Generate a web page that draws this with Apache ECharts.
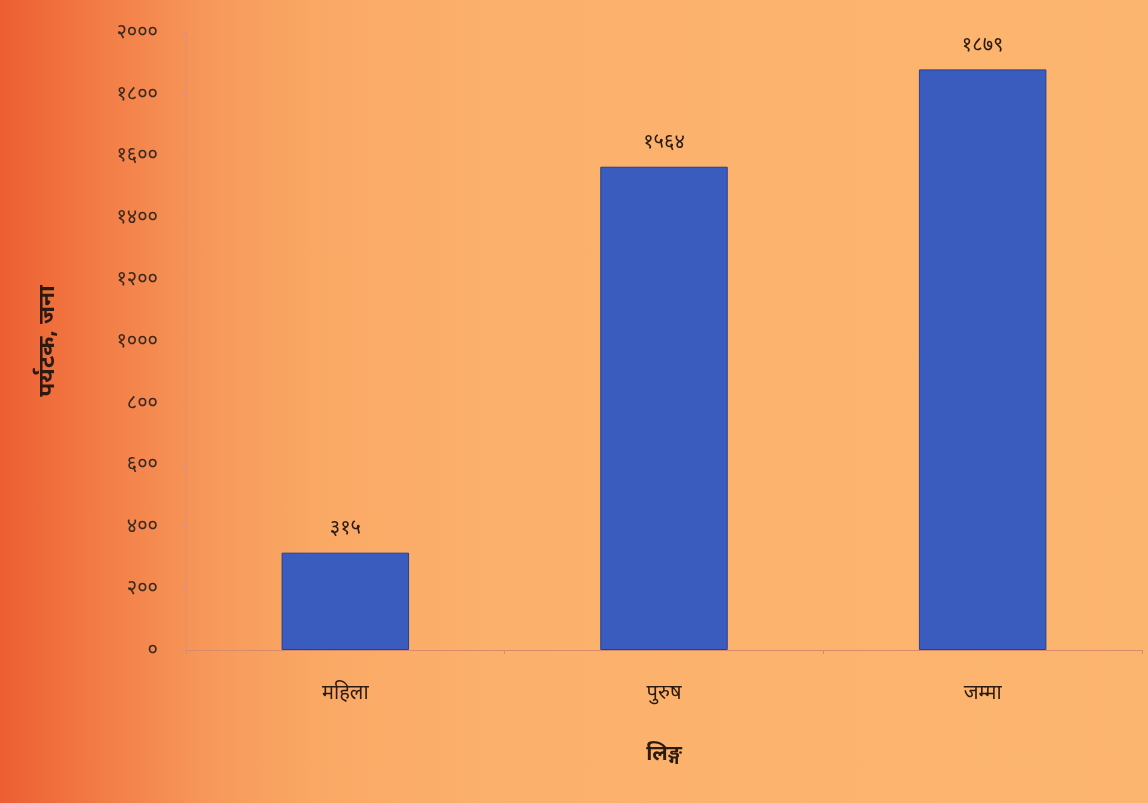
<!DOCTYPE html>
<html><head><meta charset="utf-8">
<script src="https://cdn.jsdelivr.net/npm/echarts@6/dist/echarts.min.js"></script>
<style>html,body{margin:0;padding:0;}#c{width:1148px;height:803px;background:linear-gradient(90deg,#ec5e32 0%,#f27a44 8%,#f7985a 18%,#faa965 28%,#fbb16c 45%,#fcb56f 100%);}</style>
</head><body><div id="c"></div>
<script>
const categories = ['महिला', 'पुरुष', 'जम्मा'];
const values = [315, 1564, 1879];
const valueLabels = ['३१५', '१५६४', '१८७९'];
const devDigits = ['०','१','२','३','४','५','६','७','८','९'];
const toDev = n => String(n).replace(/[0-9]/g, d => devDigits[+d]);
const fontFam = '"Noto Sans", "Noto Sans Devanagari", "Lohit Devanagari", "FreeSans", sans-serif';
const chart = echarts.init(document.getElementById('c'), null, {renderer: 'canvas'});
chart.setOption({
  backgroundColor: 'transparent',
  grid: {left: 186, right: 6, top: 32, bottom: 153},
  xAxis: {
    type: 'category', data: categories,
    name: 'लिङ्ग', nameLocation: 'middle', nameGap: 94,
    nameTextStyle: {fontSize: 21, fontWeight: 'bold', color: '#2a1a10', fontFamily: fontFam},
    axisLine: {lineStyle: {color: '#d98a6a', width: 1}},
    axisTick: {show: true, length: 4, lineStyle: {color: '#d98a6a'}},
    axisLabel: {fontSize: 20, color: '#2a1a10', margin: 33, fontFamily: fontFam}
  },
  yAxis: {
    type: 'value', min: 0, max: 2000, interval: 200,
    name: 'पर्यटक, जना', nameLocation: 'middle', nameGap: 127, nameRotate: 90,
    nameTextStyle: {fontSize: 23, fontWeight: 'bold', color: '#2a1a10', fontFamily: fontFam},
    axisLine: {show: true, lineStyle: {color: '#e09070', width: 1}},
    axisTick: {show: true, length: 4, lineStyle: {color: '#e09070'}},
    splitLine: {show: false},
    axisLabel: {fontSize: 20, color: '#3a2a20', margin: 28, fontFamily: fontFam, formatter: v => toDev(v)}
  },
  series: [{
    type: 'bar', data: values, barWidth: '40%',
    itemStyle: {color: '#3b5cbf', borderColor: '#23418f', borderWidth: 1},
    label: {show: true, position: 'top', distance: 14, fontSize: 20, color: '#2a1a10', fontFamily: fontFam,
      formatter: p => valueLabels[p.dataIndex]}
  }]
});
</script></body></html>
